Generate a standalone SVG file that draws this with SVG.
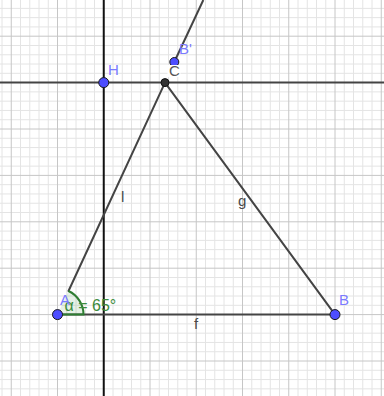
<svg xmlns="http://www.w3.org/2000/svg" width="384" height="396" viewBox="0 0 384 396">
<style>
.minor{stroke:#e4e4e4;stroke-width:1;fill:none}
.major{stroke:#c6c6c6;stroke-width:1;fill:none}
.ln{stroke:#444;stroke-width:2;fill:none;stroke-linecap:round}
.axis{stroke:#111;stroke-width:2;fill:none}
.pt{fill:#4d4dff;stroke:#1a1a1a;stroke-width:1}
.ptd{fill:#333;stroke:#111;stroke-width:1}
.lbl{font-family:"Liberation Sans",Arial,sans-serif;font-size:15px}
.blue{fill:#7b7bff}
.gray{fill:#4a4a4a}
.ang{font-family:"Liberation Sans",Arial,sans-serif;font-size:16px;fill:#3d8c3d}
</style>
<rect width="384" height="396" fill="#fff"/>
<g id="grid">
<path class="minor" d="M2,0V396M20.5,0V396M29.75,0V396M39,0V396M48.25,0V396M66.75,0V396M76,0V396M85.25,0V396M94.5,0V396M113,0V396M122.25,0V396M131.5,0V396M140.75,0V396M159.25,0V396M168.5,0V396M177.75,0V396M187,0V396M205.5,0V396M214.75,0V396M224,0V396M233.25,0V396M251.75,0V396M261,0V396M270.25,0V396M279.5,0V396M298,0V396M307.25,0V396M316.5,0V396M325.75,0V396M344.25,0V396M353.5,0V396M362.75,0V396M372,0V396"/>
<path class="minor" d="M0,8.36H384M0,17.64H384M0,26.92H384M0,45.48H384M0,54.76H384M0,64.04H384M0,73.32H384M0,91.88H384M0,101.16H384M0,110.44H384M0,119.72H384M0,138.28H384M0,147.56H384M0,156.84H384M0,166.12H384M0,184.68H384M0,193.96H384M0,203.24H384M0,212.52H384M0,231.08H384M0,240.36H384M0,249.64H384M0,258.92H384M0,277.48H384M0,286.76H384M0,296.04H384M0,305.32H384M0,323.88H384M0,333.16H384M0,342.44H384M0,351.72H384M0,370.28H384M0,379.56H384M0,388.84H384"/>
<path class="major" d="M11.25,0V396M57.5,0V396M150,0V396M196.25,0V396M242.5,0V396M288.75,0V396M335,0V396M381.25,0V396M0,36.2H384M0,129H384M0,175.4H384M0,221.8H384M0,268.2H384M0,314.6H384M0,361H384"/>
</g>
<g id="connectors">
<line id="yaxis" class="axis" x1="103.75" y1="0" x2="103.75" y2="396"/>
<line id="lineH" class="ln" x1="0" y1="82.6" x2="384" y2="82.6" style="stroke-linecap:butt"/>
<line id="f" class="ln" x1="57.5" y1="314.6" x2="335" y2="314.6"/>
<line id="l" class="ln" x1="68.5" y1="291" x2="165" y2="82.6"/>
<line id="g" class="ln" x1="165" y1="82.6" x2="335" y2="314.6"/>
<line id="ray" class="ln" x1="174.3" y1="62" x2="203.3" y2="0" style="stroke-linecap:butt"/>
</g>
<g id="angle">
<path d="M57.5,314.6L83.5,314.6A26,26 0 0 0 68.5,291Z" fill="#2e8b2e" fill-opacity="0.12"/>
<path d="M57.5,314.6L83.5,314.6A26,26 0 0 0 68.5,291" fill="none" stroke="#2e7d32" stroke-width="2"/>
<text class="ang" x="64.5" y="310.5">α = 65°</text>
</g>
<g id="nodeBp">
<circle class="pt" cx="174.3" cy="62" r="4.5"/>
<text class="lbl blue" x="179" y="53.5">B'</text>
</g>
<g id="nodeC">
<rect x="167.5" y="65" width="13" height="12" fill="#fff"/>
<circle class="ptd" cx="165" cy="82.6" r="4"/>
<text class="lbl" x="169" y="76" fill="#555">C</text>
</g>
<g id="nodeH">
<circle class="pt" cx="103.75" cy="82.6" r="5"/>
<text class="lbl blue" x="108" y="75">H</text>
</g>
<g id="nodeA">
<circle class="pt" cx="57.5" cy="314.6" r="5"/>
<text class="lbl blue" x="60" y="304.5">A</text>
</g>
<g id="nodeB">
<circle class="pt" cx="335" cy="314.6" r="5"/>
<text class="lbl blue" x="339" y="305">B</text>
</g>
<g id="labels">
<text class="lbl gray" x="121" y="202">l</text>
<text class="lbl gray" x="238" y="206">g</text>
<text class="lbl gray" x="194" y="329">f</text>
</g>
</svg>
